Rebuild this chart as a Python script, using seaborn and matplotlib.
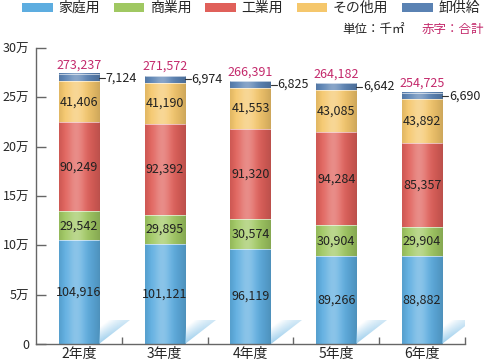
import numpy as np
import matplotlib
matplotlib.use("Agg")
import matplotlib.pyplot as plt
from matplotlib.patches import Patch, Polygon
import matplotlib.colors as mcolors
import seaborn as sns

years = ["2年度", "3年度", "4年度", "5年度", "6年度"]
series_names = ["家庭用", "商業用", "工業用", "その他用", "卸供給"]
katei = [104916, 101121, 96119, 89266, 88882]
shogyo = [29542, 29895, 30574, 30904, 29904]
kogyo = [90249, 92392, 91320, 94284, 85357]
sonota = [41406, 41190, 41553, 43085, 43892]
oroshi = [7124, 6974, 6825, 6642, 6690]
totals = [273237, 271572, 266391, 264182, 254725]
ytick_vals = [0, 50000, 100000, 150000, 200000, 250000, 300000]
ytick_labels = ["0", "5万", "10万", "15万", "20万", "25万", "30万"]

colors = ["#5dade0", "#a0c862", "#e0605a", "#f5c76c", "#5a82b3"]
magenta = "#c42a6c"
axis_col = "#666666"

sns.set_theme(style="white")
plt.rcParams["font.family"] = ["Noto Sans CJK JP", "DejaVu Sans"]

fig = plt.figure(figsize=(4.87, 3.63), dpi=100)
ax = fig.add_axes([36 / 487, 19 / 363, 429 / 487, 296 / 363])

series = [katei, shogyo, kogyo, sonota, oroshi]
bw = 0.47
bottom = np.zeros(len(years))
for name, vals, c in zip(series_names, series, colors):
    sns.barplot(x=years, y=vals, bottom=bottom.copy(), color=c, width=bw,
                saturation=1, ax=ax, linewidth=0, errorbar=None)
    bottom = bottom + np.array(vals)

# cylinder-like shading on each bar segment
N = 64
t = np.linspace(0, 1, N)
light = 0.28 * np.exp(-((t - 0.42) / 0.22) ** 2)
dark = 0.16 * np.clip((t - 0.55) / 0.45, 0, 1) ** 1.5 + 0.08 * np.clip((0.15 - t) / 0.15, 0, 1)
for p in list(ax.patches):
    x0, y0 = p.get_x(), p.get_y()
    w, h = p.get_width(), p.get_height()
    base = np.array(mcolors.to_rgb(p.get_facecolor()))
    col = base[None, :] + (1 - base[None, :]) * light[:, None]
    col = col * (1 - dark[:, None])
    img = np.clip(col, 0, 1)[None, :, :]
    ax.imshow(img, extent=(x0, x0 + w, y0, y0 + h), aspect="auto",
              interpolation="bilinear", zorder=p.get_zorder() + 0.1)
    ax.plot([x0, x0 + w], [y0 + h, y0 + h], color="white", lw=0.6, alpha=0.7,
            zorder=p.get_zorder() + 0.2)

# light shadow ramps at the foot of each bar
M = 60
uu, vv = np.meshgrid(np.linspace(0, 1, M), np.linspace(1, 0, M))
alpha = np.clip(0.85 * (1 - (vv - uu) / 0.7), 0, 0.85) * (1 - 0.5 * uu)
shadow_rgba = np.zeros((M, M, 4))
shadow_rgba[..., :3] = mcolors.to_rgb("#8ec7ea")
shadow_rgba[..., 3] = alpha
for i in range(len(years)):
    r = i + bw / 2
    H, W = 24000, 0.36
    poly = Polygon([(r, 0), (r, H), (r + W, H)], closed=True,
                   facecolor="none", edgecolor="none")
    ax.add_patch(poly)
    im = ax.imshow(shadow_rgba, extent=(r, r + W, 0, H), origin="upper", aspect="auto",
                   interpolation="bilinear", zorder=1.5)
    im.set_clip_path(poly)

# value labels
bottom = np.zeros(len(years))
for k, vals in enumerate(series):
    for i, v in enumerate(vals):
        if k < 4:
            ax.text(i, bottom[i] + v / 2, f"{v:,}", ha="center", va="center",
                    fontsize=9, color="#222222", zorder=5)
        else:
            yc = bottom[i] + v / 2
            xr = i + bw / 2
            ax.plot([xr, xr + 0.07], [yc, yc], color="#333333", lw=0.8, zorder=5)
            ax.text(xr + 0.08, yc, f"{v:,}", ha="left", va="center",
                    fontsize=9, color="#222222", zorder=5)
    bottom = bottom + np.array(vals)

for i, tv in enumerate(totals):
    ax.text(i, tv + 3000, f"{tv:,}", ha="center", va="bottom",
            fontsize=9, color=magenta, zorder=5)

ax.set_xlim(-0.5, len(years) - 0.5)
ax.set_ylim(0, 300000)
ax.set_yticks(ytick_vals)
ax.set_yticklabels(ytick_labels, fontsize=9)
ax.set_xticks(range(len(years)))
ax.set_xticklabels(years, fontsize=10)
ax.set_xticks(np.arange(0.5, len(years), 1.0), minor=True)
ax.tick_params(axis="y", direction="in", length=7, width=1, color=axis_col,
               pad=5, left=True, labelsize=9)
ax.tick_params(axis="x", which="major", length=0, pad=2.5)
ax.tick_params(axis="x", which="minor", direction="in", length=5, width=1,
               color=axis_col, bottom=True)
ax.set_xlabel("")
ax.set_ylabel("")
for s in ["top", "right"]:
    ax.spines[s].set_visible(False)
for s in ["left", "bottom"]:
    ax.spines[s].set_color(axis_col)
    ax.spines[s].set_linewidth(1)
ax.grid(False)

handles = [Patch(facecolor=c, edgecolor="none") for c in colors]
fig.legend(handles, series_names, loc="center", bbox_to_anchor=(251 / 487, 1 - 8 / 363),
           ncol=5, frameon=False, fontsize=10, handlelength=2.2, handleheight=0.6,
           handletextpad=0.4, columnspacing=1.0, borderpad=0, borderaxespad=0)

fig.text(405 / 487, 1 - 29 / 363, "単位：千㎡", ha="right", va="center",
         fontsize=9, color="#222222")
fig.text(484 / 487, 1 - 29 / 363, "赤字：合計", ha="right", va="center",
         fontsize=9, color=magenta)

fig.savefig("out.png", dpi=100)
